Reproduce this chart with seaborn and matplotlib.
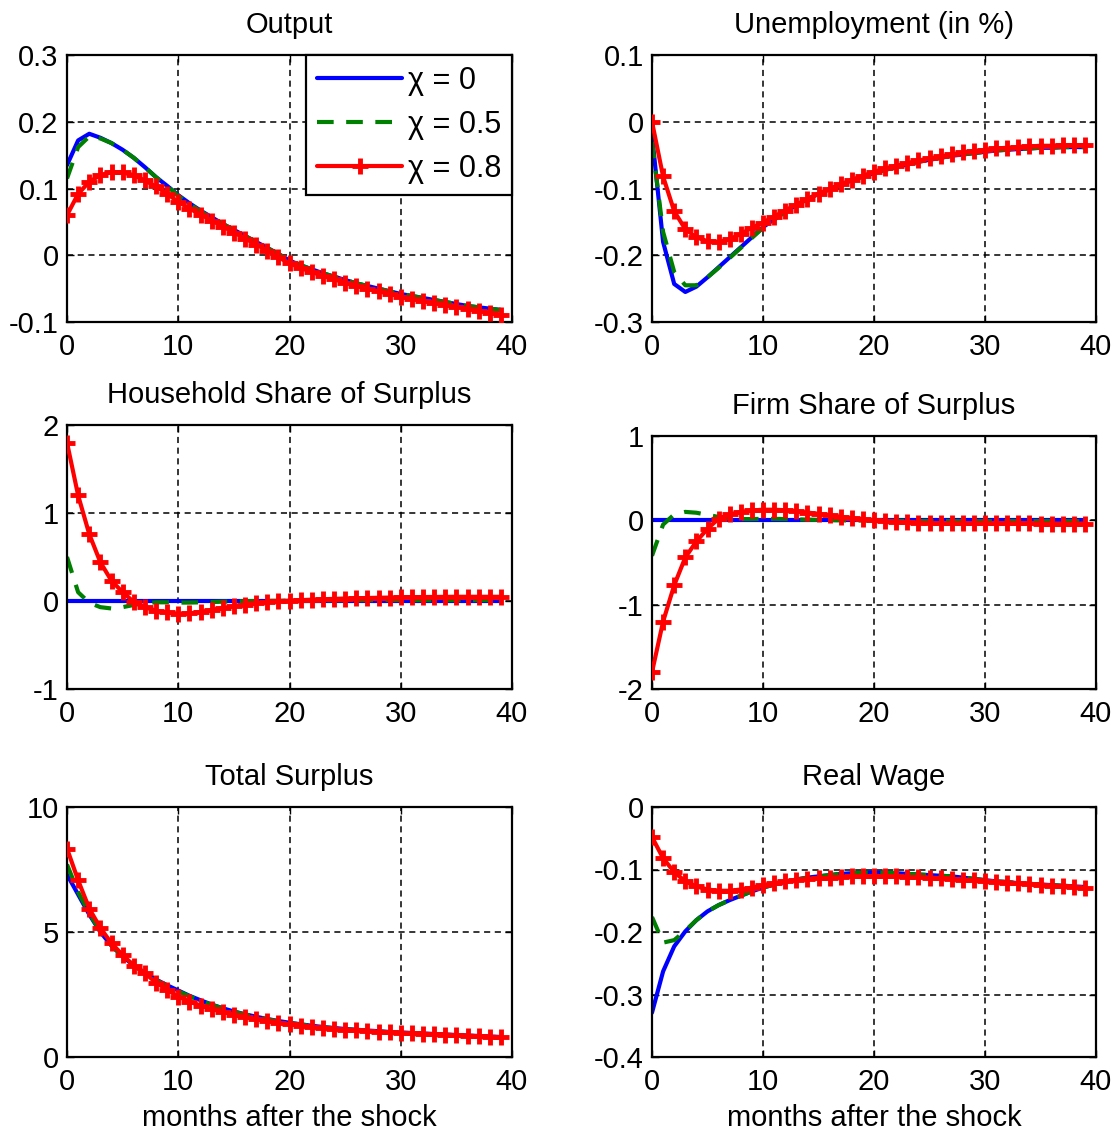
import numpy as np
import matplotlib
matplotlib.use("Agg")
import matplotlib.pyplot as plt
import seaborn as sns
import pandas as pd

# ---- data ----------------------------------------------------------------
months = list(range(40))
chi_labels = ["χ = 0", "χ = 0.5", "χ = 0.8"]

output_chi0 = [0.135, 0.172, 0.182, 0.176, 0.168, 0.158, 0.146, 0.132, 0.117, 0.104,
               0.090, 0.078, 0.067, 0.057, 0.047, 0.038, 0.029, 0.020, 0.011, 0.002,
               -0.008, -0.015, -0.021, -0.027, -0.032, -0.037, -0.042, -0.046, -0.050, -0.054,
               -0.058, -0.061, -0.064, -0.067, -0.070, -0.073, -0.076, -0.078, -0.080, -0.082]
output_chi05 = [0.115, 0.162, 0.178, 0.175, 0.168, 0.158, 0.146, 0.132, 0.117, 0.104,
                0.089, 0.077, 0.066, 0.056, 0.047, 0.038, 0.029, 0.020, 0.011, 0.002,
                -0.008, -0.015, -0.021, -0.027, -0.032, -0.037, -0.042, -0.046, -0.050, -0.054,
                -0.058, -0.061, -0.064, -0.067, -0.070, -0.073, -0.076, -0.078, -0.080, -0.082]
output_chi08 = [0.060, 0.092, 0.110, 0.120, 0.125, 0.124, 0.120, 0.112, 0.103, 0.092,
                0.080, 0.070, 0.061, 0.052, 0.043, 0.034, 0.025, 0.016, 0.007, -0.003,
                -0.012, -0.019, -0.025, -0.031, -0.036, -0.041, -0.046, -0.050, -0.054, -0.058,
                -0.062, -0.065, -0.068, -0.071, -0.074, -0.077, -0.080, -0.083, -0.086, -0.089]

unemp_chi0 = [-0.020, -0.180, -0.243, -0.255, -0.247, -0.233, -0.218, -0.203, -0.188, -0.173,
              -0.158, -0.146, -0.135, -0.125, -0.116, -0.108, -0.101, -0.094, -0.088, -0.082,
              -0.077, -0.072, -0.068, -0.064, -0.060, -0.057, -0.054, -0.051, -0.049, -0.047,
              -0.045, -0.043, -0.042, -0.041, -0.040, -0.039, -0.039, -0.038, -0.038, -0.038]
unemp_chi05 = [-0.030, -0.165, -0.225, -0.245, -0.245, -0.233, -0.219, -0.204, -0.189, -0.174,
               -0.159, -0.147, -0.135, -0.125, -0.116, -0.108, -0.101, -0.094, -0.088, -0.082,
               -0.077, -0.072, -0.068, -0.064, -0.060, -0.057, -0.054, -0.051, -0.049, -0.047,
               -0.045, -0.043, -0.042, -0.041, -0.040, -0.039, -0.039, -0.038, -0.038, -0.038]
unemp_chi08 = [0.000, -0.082, -0.134, -0.161, -0.173, -0.179, -0.180, -0.176, -0.168, -0.159,
               -0.151, -0.142, -0.133, -0.124, -0.116, -0.108, -0.101, -0.094, -0.087, -0.081,
               -0.075, -0.070, -0.066, -0.062, -0.058, -0.055, -0.052, -0.049, -0.046, -0.044,
               -0.042, -0.040, -0.039, -0.038, -0.037, -0.036, -0.036, -0.035, -0.035, -0.035]

hh_chi0 = [0.0, 0.0, 0.0, 0.0, 0.0, 0.0, 0.0, 0.0, 0.0, 0.0,
           0.0, 0.0, 0.0, 0.0, 0.0, 0.0, 0.0, 0.0, 0.0, 0.0,
           0.0, 0.0, 0.0, 0.0, 0.0, 0.0, 0.0, 0.0, 0.0, 0.0,
           0.0, 0.0, 0.0, 0.0, 0.0, 0.0, 0.0, 0.0, 0.0, 0.0]
hh_chi05 = [0.50, 0.10, -0.02, -0.07, -0.085, -0.07, -0.045, -0.025, -0.015, -0.015,
            -0.018, -0.018, -0.015, -0.012, -0.008, -0.005, -0.002, 0.000, 0.002, 0.003,
            0.004, 0.005, 0.006, 0.007, 0.008, 0.008, 0.009, 0.009, 0.010, 0.010,
            0.010, 0.010, 0.010, 0.010, 0.010, 0.010, 0.010, 0.010, 0.010, 0.010]
hh_chi08 = [1.80, 1.20, 0.76, 0.44, 0.23, 0.10, -0.01, -0.07, -0.11, -0.13,
            -0.145, -0.14, -0.125, -0.10, -0.08, -0.06, -0.04, -0.025, -0.012, -0.003,
            0.005, 0.010, 0.015, 0.020, 0.024, 0.028, 0.031, 0.034, 0.037, 0.039,
            0.041, 0.043, 0.045, 0.046, 0.047, 0.048, 0.048, 0.048, 0.048, 0.048]

firm_chi0 = [0.0, 0.0, 0.0, 0.0, 0.0, 0.0, 0.0, 0.0, 0.0, 0.0,
             0.0, 0.0, 0.0, 0.0, 0.0, 0.0, 0.0, 0.0, 0.0, 0.0,
             0.0, 0.0, 0.0, 0.0, 0.0, 0.0, 0.0, 0.0, 0.0, 0.0,
             0.0, 0.0, 0.0, 0.0, 0.0, 0.0, 0.0, 0.0, 0.0, 0.0]
firm_chi05 = [-0.42, -0.05, 0.07, 0.10, 0.09, 0.065, 0.04, 0.025, 0.015, 0.015,
              0.018, 0.018, 0.015, 0.012, 0.008, 0.005, 0.002, 0.000, -0.002, -0.003,
              -0.004, -0.005, -0.006, -0.007, -0.008, -0.008, -0.009, -0.009, -0.010, -0.010,
              -0.010, -0.010, -0.010, -0.010, -0.010, -0.010, -0.010, -0.010, -0.010, -0.010]
firm_chi08 = [-1.80, -1.20, -0.77, -0.44, -0.25, -0.10, 0.02, 0.07, 0.10, 0.118,
              0.126, 0.126, 0.120, 0.108, 0.092, 0.078, 0.060, 0.042, 0.025, 0.010,
              0.000, -0.010, -0.018, -0.024, -0.028, -0.031, -0.033, -0.034, -0.035, -0.035,
              -0.036, -0.036, -0.037, -0.037, -0.037, -0.038, -0.038, -0.038, -0.038, -0.038]

total_chi0 = [7.30, 6.50, 5.70, 5.00, 4.45, 4.02, 3.66, 3.37, 3.10, 2.87,
              2.66, 2.45, 2.27, 2.10, 1.95, 1.82, 1.71, 1.61, 1.52, 1.44,
              1.37, 1.31, 1.25, 1.20, 1.16, 1.12, 1.09, 1.06, 1.03, 1.00,
              0.98, 0.96, 0.94, 0.92, 0.90, 0.88, 0.86, 0.84, 0.82, 0.80]
total_chi05 = [7.70, 6.60, 5.75, 5.02, 4.46, 4.03, 3.66, 3.36, 3.08, 2.85,
               2.63, 2.43, 2.25, 2.09, 1.94, 1.81, 1.70, 1.60, 1.51, 1.43,
               1.36, 1.30, 1.24, 1.19, 1.15, 1.11, 1.08, 1.05, 1.02, 0.99,
               0.97, 0.95, 0.93, 0.91, 0.89, 0.87, 0.85, 0.83, 0.81, 0.79]
total_chi08 = [8.34, 7.07, 5.94, 5.16, 4.55, 4.08, 3.66, 3.35, 2.98, 2.68,
               2.42, 2.22, 2.06, 1.92, 1.80, 1.69, 1.60, 1.52, 1.44, 1.37,
               1.31, 1.26, 1.21, 1.17, 1.13, 1.10, 1.07, 1.04, 1.01, 0.99,
               0.97, 0.95, 0.93, 0.91, 0.89, 0.87, 0.85, 0.83, 0.81, 0.79]

wage_chi0 = [-0.329, -0.263, -0.223, -0.199, -0.181, -0.167, -0.157, -0.149, -0.142, -0.135,
             -0.129, -0.124, -0.120, -0.116, -0.113, -0.111, -0.109, -0.107, -0.106, -0.105,
             -0.105, -0.105, -0.106, -0.107, -0.108, -0.109, -0.110, -0.111, -0.113, -0.115,
             -0.117, -0.119, -0.120, -0.122, -0.123, -0.124, -0.125, -0.126, -0.127, -0.128]
wage_chi05 = [-0.176, -0.217, -0.213, -0.198, -0.181, -0.167, -0.157, -0.149, -0.142, -0.135,
              -0.129, -0.124, -0.120, -0.116, -0.113, -0.111, -0.109, -0.107, -0.106, -0.105,
              -0.105, -0.105, -0.106, -0.107, -0.108, -0.109, -0.110, -0.111, -0.113, -0.115,
              -0.117, -0.119, -0.120, -0.122, -0.123, -0.124, -0.125, -0.126, -0.127, -0.128]
wage_chi08 = [-0.048, -0.082, -0.104, -0.119, -0.127, -0.132, -0.134, -0.134, -0.132, -0.129,
              -0.125, -0.122, -0.119, -0.117, -0.115, -0.114, -0.113, -0.112, -0.111, -0.111,
              -0.111, -0.111, -0.111, -0.112, -0.112, -0.113, -0.114, -0.115, -0.116, -0.117,
              -0.119, -0.120, -0.121, -0.122, -0.123, -0.124, -0.126, -0.127, -0.128, -0.130]

titles = ["Output", "Unemployment (in %)", "Household Share of Surplus",
          "Firm Share of Surplus", "Total Surplus", "Real Wage"]
panel_series = [
    (output_chi0, output_chi05, output_chi08),
    (unemp_chi0, unemp_chi05, unemp_chi08),
    (hh_chi0, hh_chi05, hh_chi08),
    (firm_chi0, firm_chi05, firm_chi08),
    (total_chi0, total_chi05, total_chi08),
    (wage_chi0, wage_chi05, wage_chi08),
]
y_ticks = [
    [-0.1, 0, 0.1, 0.2, 0.3],
    [-0.3, -0.2, -0.1, 0, 0.1],
    [-1, 0, 1, 2],
    [-2, -1, 0, 1],
    [0, 5, 10],
    [-0.4, -0.3, -0.2, -0.1, 0],
]
x_ticks = [0, 10, 20, 30, 40]

# ---- style ---------------------------------------------------------------
sns.set_style("white")
plt.rcParams["font.family"] = ["Liberation Sans", "DejaVu Sans"]
plt.rcParams["axes.unicode_minus"] = False
plt.rcParams["text.color"] = "black"
plt.rcParams["axes.labelcolor"] = "black"

FS = 21
colors = ["#0000ff", "#008000", "#ff0000"]

# axes boxes in pixels: left, top, right, bottom
W, H = 1120, 1136
boxes = [
    (67, 55, 512, 322), (652, 55, 1096, 322),
    (67, 425, 512, 689), (652, 436, 1096, 689),
    (67, 807, 512, 1057), (652, 807, 1096, 1057),
]

fig = plt.figure(figsize=(W / 100, H / 100), dpi=100)

for i, (title, series) in enumerate(zip(titles, panel_series)):
    l, t, r, b = boxes[i]
    ax = fig.add_axes([l / W, 1 - b / H, (r - l) / W, (b - t) / H])

    # long form frame for seaborn
    df = pd.DataFrame({
        "month": months * 3,
        "value": list(series[0]) + list(series[1]) + list(series[2]),
        "chi": [chi_labels[0]] * 40 + [chi_labels[1]] * 40 + [chi_labels[2]] * 40,
    })

    sns.lineplot(data=df, x="month", y="value", hue="chi", hue_order=chi_labels,
                 palette=colors, estimator=None, sort=False, legend=False, ax=ax)

    # MATLAB-like line styles (seaborn gives white marker edges, so reset them)
    lines = ax.lines[:3]
    for ln, col in zip(lines, colors):
        ln.set_linewidth(3)
        ln.set_linestyle("-")
        ln.set_color(col)
    lines[1].set_linestyle((0, (4, 3)))
    lines[2].set_marker("+")
    lines[2].set_markersize(12)
    lines[2].set_markeredgewidth(3.5)
    lines[2].set_markeredgecolor(colors[2])
    lines[2].set_markerfacecolor(colors[2])
    lines[2].set_zorder(5)

    ax.set_xlim(0, 40)
    ax.set_ylim(y_ticks[i][0], y_ticks[i][-1])
    ax.set_xticks(x_ticks)
    ax.set_xticklabels([f"{v:g}" for v in x_ticks])
    ax.set_yticks(y_ticks[i])
    ax.set_yticklabels([f"{v:g}" for v in y_ticks[i]])
    ax.tick_params(direction="in", length=5, width=1, labelsize=FS,
                   top=True, right=True, bottom=True, left=True, colors="black")
    ax.tick_params(axis="x", pad=8)
    ax.tick_params(axis="y", pad=6)
    ax.grid(True, color="black", linestyle=(0, (4, 3)), linewidth=1.1)
    for sp in ax.spines.values():
        sp.set_color("black")
        sp.set_linewidth(1.6)
    ax.set_title(title, fontsize=FS, pad=16)
    ax.set_ylabel("")
    if i >= 4:
        ax.set_xlabel("months after the shock", fontsize=FS, labelpad=6)
    else:
        ax.set_xlabel("")

    if i == 0:
        leg = ax.legend(lines, chi_labels, loc="upper right", borderaxespad=0,
                        fancybox=False, framealpha=1, edgecolor="black",
                        handlelength=2.75, handletextpad=0.2, labelspacing=0.46,
                        borderpad=0.36, fontsize=22)
        leg.get_frame().set_linewidth(1.6)

fig.savefig("out.png", dpi=100)
